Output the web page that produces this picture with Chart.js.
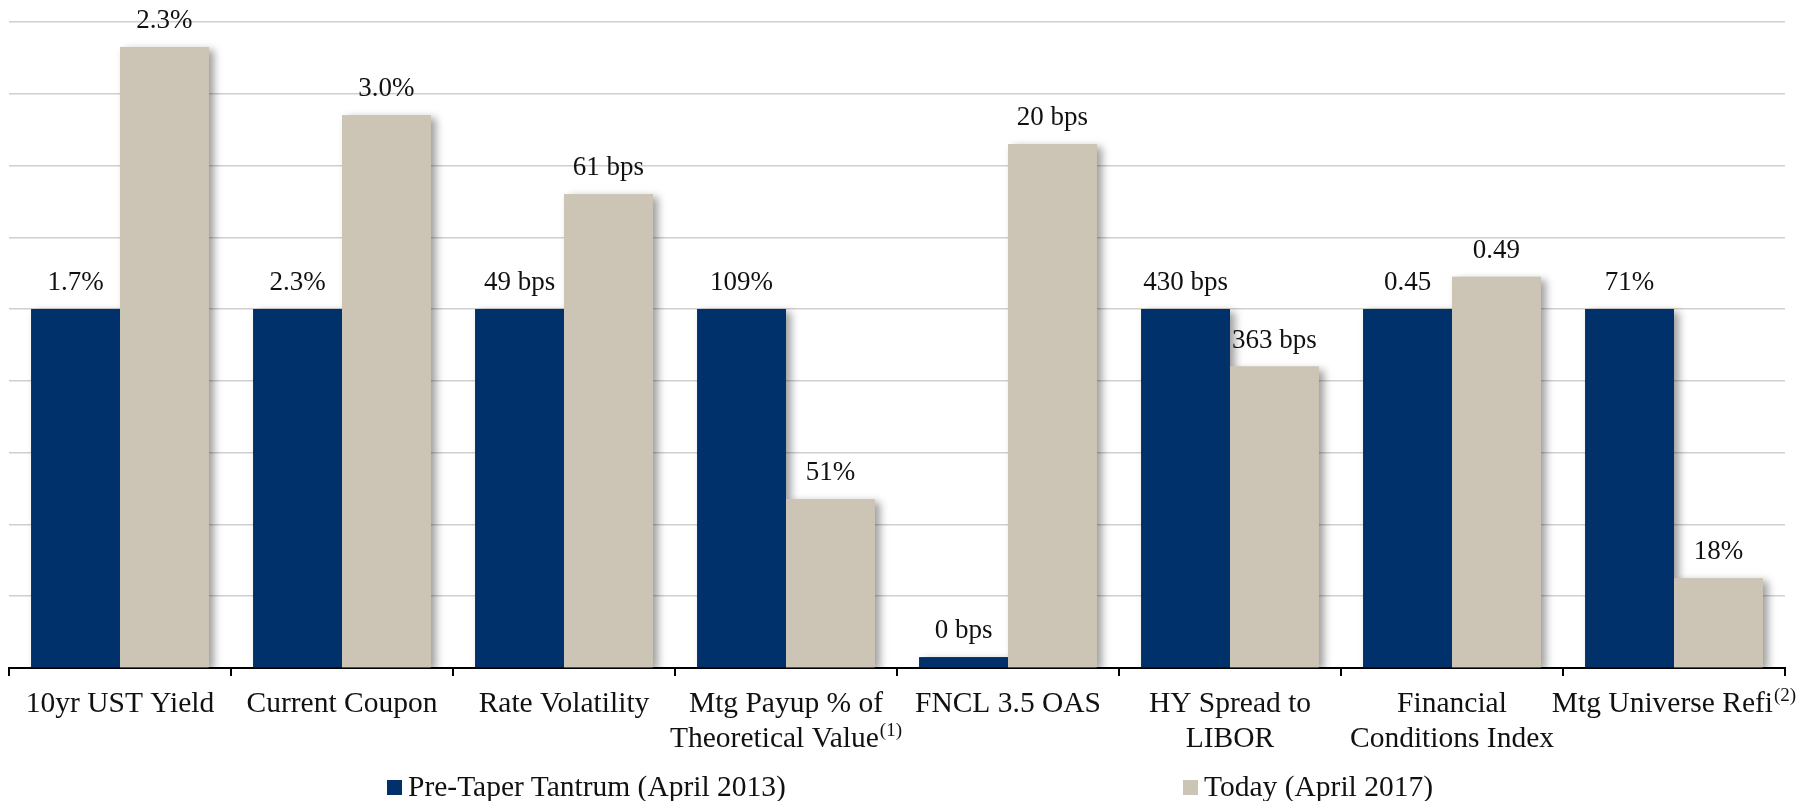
<!DOCTYPE html>
<html>
<head>
<meta charset="utf-8">
<script src="https://cdn.jsdelivr.net/npm/chart.js@4.4.1/dist/chart.umd.min.js"></script>
<style>
  html, body { margin: 0; padding: 0; background: #ffffff; }
  #wrap { position: relative; width: 1818px; height: 801px; overflow: hidden; }
  #c { position: absolute; left: 0; top: 0; }
  .leg { position: absolute; top: 770px; height: 32px; display: flex; align-items: center;
         font-family: "Liberation Serif", serif; font-size: 29.5px; color: #111; white-space: nowrap; }
  .leg .sw { width: 15px; height: 15px; margin-right: 6px; margin-top: 2px; }
</style>
</head>
<body>
<div id="wrap">
  <canvas id="c" width="1818" height="801"></canvas>
  <div class="leg" id="leg0" style="left:387px;"><span class="sw" id="sw0"></span><span id="lt0"></span></div>
  <div class="leg" id="leg1" style="left:1183px;"><span class="sw" id="sw1"></span><span id="lt1"></span></div>
</div>
<script>
// ---- Data ----
const categories = [
  ['10yr UST Yield'],
  ['Current Coupon'],
  ['Rate Volatility'],
  ['Mtg Payup % of', 'Theoretical Value⁽¹⁾'],
  ['FNCL 3.5 OAS'],
  ['HY Spread to', 'LIBOR'],
  ['Financial', 'Conditions Index'],
  ['Mtg Universe Refi⁽²⁾']
];
const seriesNames = ['Pre-Taper Tantrum (April 2013)', 'Today (April 2017)'];
const preTaperValues = [100, 100, 100, 100, 3, 100, 100, 100];
const todayValues = [173, 154, 132, 47, 146, 84, 109, 25];
const preTaperLabels = ['1.7%', '2.3%', '49 bps', '109%', '0 bps', '430 bps', '0.45', '71%'];
const todayLabels = ['2.3%', '3.0%', '61 bps', '51%', '20 bps', '363 bps', '0.49', '18%'];
const yMin = 0, yMax = 180, yStep = 20;

const NAVY = '#01316B';
const BEIGE = '#CCC4B4';
const SERIF = '"Liberation Serif", "DejaVu Serif", serif';

// legend (html text)
document.getElementById('sw0').style.background = NAVY;
document.getElementById('sw1').style.background = BEIGE;
document.getElementById('lt0').textContent = seriesNames[0];
document.getElementById('lt1').textContent = seriesNames[1];

const SUP_MAP = { '⁽': '(', '⁾': ')', '¹': '1', '²': '2', '³': '3' };

const shadowPlugin = {
  id: 'barShadow',
  beforeDatasetsDraw(chart) {
    const ctx = chart.ctx;
    ctx.save();
    ctx.beginPath();
    ctx.rect(chart.chartArea.left, chart.chartArea.top - 30, chart.chartArea.right - chart.chartArea.left + 30, chart.chartArea.bottom - chart.chartArea.top + 30);
    ctx.clip();
    chart.data.datasets.forEach((ds, di) => {
      const meta = chart.getDatasetMeta(di);
      meta.data.forEach((bar) => {
        const p = bar.getProps(['x', 'y', 'base', 'width'], true);
        ctx.save();
        ctx.shadowColor = 'rgba(0,0,0,0.38)';
        ctx.shadowBlur = 8;
        ctx.shadowOffsetX = 5;
        ctx.shadowOffsetY = 3;
        ctx.fillStyle = ds.backgroundColor;
        ctx.fillRect(p.x - p.width / 2, p.y, p.width, p.base - p.y);
        ctx.restore();
      });
    });
    ctx.restore();
  },
  afterDatasetsDraw(chart) {
    const ctx = chart.ctx;
    const lbls = [preTaperLabels, todayLabels];
    ctx.save();
    ctx.font = '27px ' + SERIF;
    ctx.fillStyle = '#111';
    ctx.textAlign = 'center';
    ctx.textBaseline = 'alphabetic';
    chart.data.datasets.forEach((ds, di) => {
      const meta = chart.getDatasetMeta(di);
      meta.data.forEach((bar, i) => {
        const p = bar.getProps(['x', 'y'], true);
        ctx.fillText(lbls[di][i], p.x, p.y - 19);
      });
    });
    ctx.restore();
  },
  afterDraw(chart) {
    const ctx = chart.ctx;
    const xs = chart.scales.x;
    const bottom = chart.chartArea.bottom;
    ctx.save();
    ctx.fillStyle = '#111';
    ctx.textBaseline = 'alphabetic';
    ctx.textAlign = 'left';
    categories.forEach((lines, i) => {
      const cx = xs.getPixelForValue(i);
      lines.forEach((line, li) => {
        const m = line.match(/^(.*?)([⁽⁾¹²³]+)$/);
        const main = m ? m[1] : line;
        const sup = m ? m[2].split('').map(c => SUP_MAP[c] || c).join('') : '';
        ctx.font = '29.5px ' + SERIF;
        const w1 = ctx.measureText(main).width;
        ctx.font = '19px ' + SERIF;
        const w2 = sup ? ctx.measureText(sup).width + 1 : 0;
        const x0 = cx - (w1 + w2) / 2;
        const by = bottom + 44 + li * 35;
        ctx.font = '29.5px ' + SERIF;
        ctx.fillText(main, x0, by);
        if (sup) {
          ctx.font = '19px ' + SERIF;
          ctx.fillText(sup, x0 + w1 + 1, by - 11);
        }
      });
    });
    ctx.restore();
  }
};

new Chart(document.getElementById('c'), {
  type: 'bar',
  data: {
    labels: categories,
    datasets: [
      { label: seriesNames[0], data: preTaperValues, backgroundColor: NAVY, borderWidth: 0,
        categoryPercentage: 0.8, barPercentage: 1.0 },
      { label: seriesNames[1], data: todayValues, backgroundColor: BEIGE, borderWidth: 0,
        categoryPercentage: 0.8, barPercentage: 1.0 }
    ]
  },
  options: {
    responsive: false,
    animation: false,
    events: [],
    layout: { padding: { left: 9, right: 33, top: 22, bottom: 125 } },
    plugins: { legend: { display: false }, tooltip: { enabled: false } },
    scales: {
      x: {
        offset: true,
        ticks: { display: false },
        grid: { offset: true, drawOnChartArea: false, drawTicks: true, tickLength: 8, color: '#000', lineWidth: 2 },
        border: { display: true, color: '#000', width: 2 }
      },
      y: {
        min: yMin, max: yMax,
        ticks: { display: false, stepSize: yStep },
        grid: { drawTicks: false, color: '#D0D0D0', lineWidth: 1.6 },
        border: { display: false }
      }
    }
  },
  plugins: [shadowPlugin]
});
</script>
</body>
</html>
